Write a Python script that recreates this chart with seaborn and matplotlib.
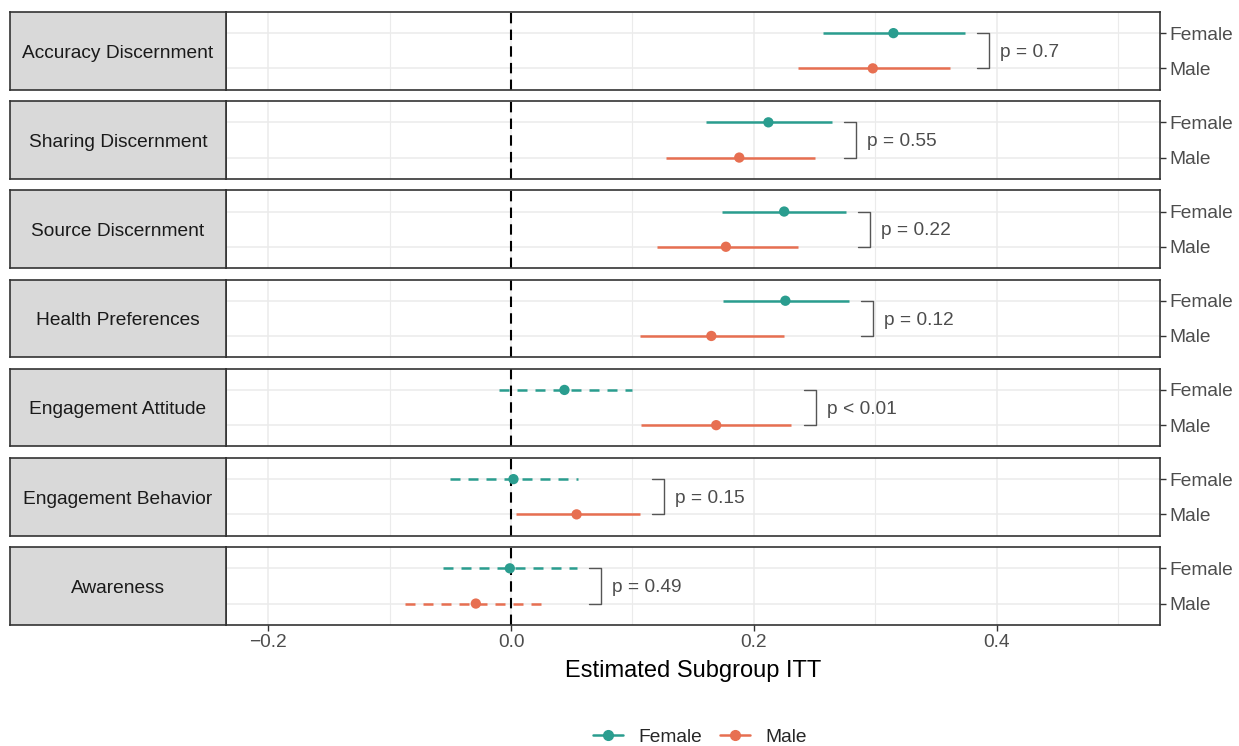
import numpy as np
import pandas as pd
import matplotlib
matplotlib.use("Agg")
import matplotlib.pyplot as plt
from matplotlib.lines import Line2D
import seaborn as sns

# Subgroup ITT estimates
outcomes = ["Accuracy Discernment", "Sharing Discernment", "Source Discernment",
            "Health Preferences", "Engagement Attitude", "Engagement Behavior", "Awareness"]
female_est = [0.315, 0.212, 0.225, 0.226, 0.044, 0.002, -0.001]
female_lo = [0.257, 0.161, 0.174, 0.175, -0.010, -0.050, -0.056]
female_hi = [0.374, 0.264, 0.276, 0.278, 0.100, 0.055, 0.054]
male_est = [0.298, 0.188, 0.177, 0.165, 0.169, 0.054, -0.029]
male_lo = [0.236, 0.128, 0.120, 0.106, 0.107, 0.004, -0.087]
male_hi = [0.362, 0.250, 0.236, 0.225, 0.231, 0.106, 0.030]
p_labels = ["p = 0.7", "p = 0.55", "p = 0.22", "p = 0.12", "p < 0.01", "p = 0.15", "p = 0.49"]
groups = ["Female", "Male"]
x_ticks = [-0.2, 0.0, 0.2, 0.4]
x_minor = [-0.1, 0.1, 0.3, 0.5]

sns.set_theme(style="white")
plt.rcParams['font.family'] = ['Liberation Sans', 'DejaVu Sans']

colors = {"Female": "#2A9D8F", "Male": "#E76F51"}
border = "#333333"
grid_c = "#EBEBEB"
txt_c = "#4D4D4D"
fs = 13.8

# long table
rows = []
for i, name in enumerate(outcomes):
    rows.append(dict(outcome=name, group="Female", ypos=0, est=female_est[i],
                     lo=female_lo[i], hi=female_hi[i]))
    rows.append(dict(outcome=name, group="Male", ypos=1, est=male_est[i],
                     lo=male_lo[i], hi=male_hi[i]))
df = pd.DataFrame(rows)

W, H = 1239, 746
fig = plt.figure(figsize=(W / 100, H / 100), dpi=100)

left_px, right_px = 226, 1160
strip_left = 10
top0, panel_h, step = 12, 77.5, 89.2

for i, name in enumerate(outcomes):
    top = top0 + i * step
    bottom = 1 - (top + panel_h) / H
    ax = fig.add_axes([left_px / W, bottom, (right_px - left_px) / W, panel_h / H])
    sub = df[df["outcome"] == name]

    # grid
    for xv in x_ticks:
        ax.axvline(xv, color=grid_c, lw=1.1, zorder=0)
    for xv in x_minor:
        ax.axvline(xv, color=grid_c, lw=0.8, zorder=0)
    for yv in [0, 1]:
        ax.axhline(yv, color=grid_c, lw=1.1, zorder=0)

    ax.axvline(0, color="black", lw=1.5, ls=(0, (5, 3)), zorder=1)

    # confidence intervals, dashed if crossing zero
    for _, r in sub.iterrows():
        ls = "-" if (r["lo"] > 0 or r["hi"] < 0) else (0, (4, 3.2))
        ax.hlines(r["ypos"], r["lo"], r["hi"], color=colors[r["group"]], lw=1.8,
                  linestyles=[ls], zorder=2)

    sns.scatterplot(data=sub, x="est", y="ypos", hue="group", palette=colors,
                    s=55, edgecolor="none", legend=False, ax=ax, zorder=3)

    # bracket with p value
    bx = sub["hi"].max() + 0.02
    ax.plot([bx - 0.01, bx, bx, bx - 0.01], [0, 0, 1, 1], color="#555555", lw=1.0,
            zorder=3)
    ax.text(bx + 0.009, 0.55, p_labels[i], va="center", ha="left", fontsize=fs,
            color=txt_c)

    ax.set_xlim(-0.2348, 0.5346)
    ax.set_ylim(1.6, -0.6)
    ax.set_xlabel("")
    ax.set_ylabel("")
    ax.yaxis.tick_right()
    ax.set_yticks([0, 1])
    ax.set_yticklabels(groups)
    ax.tick_params(axis="y", right=True, left=False, length=4, width=1, color=border,
                   labelcolor=txt_c, labelsize=fs, pad=3)
    ax.set_xticks(x_ticks)
    ax.set_xticklabels(["\u22120.2", "0.0", "0.2", "0.4"])
    if i < len(outcomes) - 1:
        ax.tick_params(axis="x", bottom=False, labelbottom=False)
    else:
        ax.tick_params(axis="x", bottom=True, length=4, width=1, color=border,
                       labelcolor=txt_c, labelsize=fs, pad=3)
        ax.set_xlabel("Estimated Subgroup ITT", fontsize=17, color="black", labelpad=6)
    for sp in ax.spines.values():
        sp.set_color(border)
        sp.set_linewidth(1.2)
        sp.set_visible(True)

    # facet strip on the left
    sax = fig.add_axes([strip_left / W, bottom, (left_px - strip_left) / W, panel_h / H])
    sax.set_facecolor("#D9D9D9")
    sax.set_xticks([])
    sax.set_yticks([])
    for sp in sax.spines.values():
        sp.set_color(border)
        sp.set_linewidth(1.2)
    sax.text(0.5, 0.47, name, ha="center", va="center", fontsize=fs,
             color="#1A1A1A", transform=sax.transAxes)

handles = [Line2D([0], [0], color=colors[g], lw=1.8, marker="o", markersize=7)
           for g in groups]
fig.legend(handles, groups, loc="center", ncol=2, frameon=False,
           bbox_to_anchor=(700 / W, 1 - 737 / H),
           fontsize=fs, handlelength=1.6, handletextpad=0.8, columnspacing=0.9)

fig.savefig("out.png", dpi=100)
